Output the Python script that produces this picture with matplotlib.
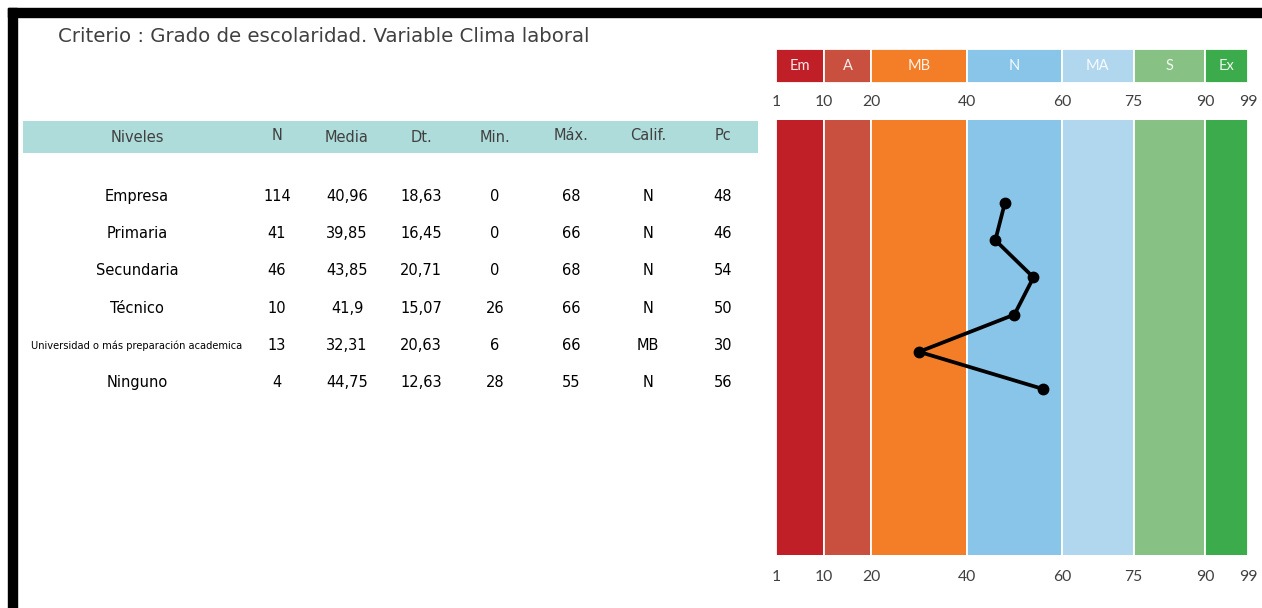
import matplotlib
matplotlib.use("Agg")
import matplotlib.pyplot as plt
from matplotlib.patches import Rectangle
from matplotlib.transforms import blended_transform_factory

# ---------------- data ----------------
title = "Criterio : Grado de escolaridad. Variable Clima laboral"
headers = ["Niveles", "N", "Media", "Dt.", "Min.", "Máx.", "Calif.", "Pc"]
niveles = ["Empresa", "Primaria", "Secundaria", "Técnico",
           "Universidad o más preparación academica", "Ninguno"]
n_vals = ["114", "41", "46", "10", "13", "4"]
media = ["40,96", "39,85", "43,85", "41,9", "32,31", "44,75"]
dt = ["18,63", "16,45", "20,71", "15,07", "20,63", "12,63"]
minimo = ["0", "0", "0", "26", "6", "28"]
maximo = ["68", "66", "68", "66", "66", "55"]
calif = ["N", "N", "N", "N", "MB", "N"]
pc = [48, 46, 54, 50, 30, 56]

band_names = ["Em", "A", "MB", "N", "MA", "S", "Ex"]
band_edges = [0, 10, 20, 40, 60, 75, 90, 99]
edge_labels = ["1", "10", "20", "40", "60", "75", "90", "99"]
band_colors = ["#c01f28", "#c94f3f", "#f47e28", "#89c5e8",
               "#b1d7ef", "#87c284", "#3bab4b"]

# ---------------- figure ----------------
W, H = 1262, 608
fig = plt.figure(figsize=(W / 100, H / 100), dpi=100)
bg = fig.add_axes([0, 0, 1, 1])
bg.set_xlim(0, W)
bg.set_ylim(H, 0)
bg.axis("off")

TXT = "DejaVu Sans"
LAB = "Lato"

# black frame pieces
bg.add_patch(Rectangle((8, 8), W - 8, 9, color="black", zorder=5))
bg.add_patch(Rectangle((8, 8), 9, H - 8, color="black", zorder=5))

bg.text(58, 37, title, fontsize=14.2, color="#404040", family=TXT,
        ha="left", va="center")

# table header
bg.add_patch(Rectangle((23, 121), 735, 32, color="#aedcda", lw=0, zorder=1))
col_x = [137, 277, 347, 421, 495, 571, 648, 723]
head_dy = [138, 135, 138, 138, 138, 135, 135, 135]
for x, y, h in zip(col_x, head_dy, headers):
    bg.text(x, y, h, fontsize=10.5, color="#404040", family=TXT,
            ha="center", va="center", zorder=2)

row_y0, row_dy = 196.5, 37.2
cols = [niveles, n_vals, media, dt, minimo, maximo, calif, [str(v) for v in pc]]
for i in range(len(niveles)):
    y = row_y0 + row_dy * i
    for j, (x, col) in enumerate(zip(col_x, cols)):
        txt = col[i]
        fs = 10.5
        if j == 0 and len(txt) > 20:
            fs = 7.1
        bg.text(x, y, txt, fontsize=fs, color="black", family=TXT,
                ha="center", va="center")

# ---------------- band axes ----------------
L, R = 776, 1248
def add_ax(top, bottom):
    return fig.add_axes([L / W, 1 - bottom / H, (R - L) / W, (bottom - top) / H])

ax_top = add_ax(49, 83)
ax_main = add_ax(120, 555)

lefts = band_edges[:-1]
widths = [b - a for a, b in zip(band_edges[:-1], band_edges[1:])]
ax_top.bar(lefts, 1, width=widths, bottom=0, align="edge", color=band_colors,
           edgecolor="white", linewidth=1.3)
for ax in (ax_top, ax_main):
    ax.set_xlim(band_edges[0], band_edges[-1])
    ax.axis("off")
ax_top.set_ylim(0, 1)

for a, w, name in zip(lefts, widths, band_names):
    ax_top.text(a + w / 2, 0.5, name, fontsize=10.5, family=LAB,
                color="white", alpha=0.9, ha="center", va="center")

# main chart: rows index 0..5
row_pts = list(range(len(pc)))
ax_main.bar(lefts, 20, width=widths, bottom=-5, align="edge", color=band_colors,
            edgecolor="white", linewidth=1.3)
ax_main.set_ylim((555 - 203) / row_dy, (120 - 203) / row_dy)
ax_main.plot(pc, row_pts, color="black", lw=2.7, marker="o", ms=7.5,
             solid_joinstyle="round", zorder=5)

# edge labels above and below
tr = blended_transform_factory(ax_main.transData, bg.transData)
for e, lab in zip(band_edges, edge_labels):
    for yy in (102, 577):
        bg.text(e, yy, lab, transform=tr, fontsize=11.3, family=LAB,
                color="#404040", ha="center", va="center")

fig.savefig("out.png", dpi=100)
